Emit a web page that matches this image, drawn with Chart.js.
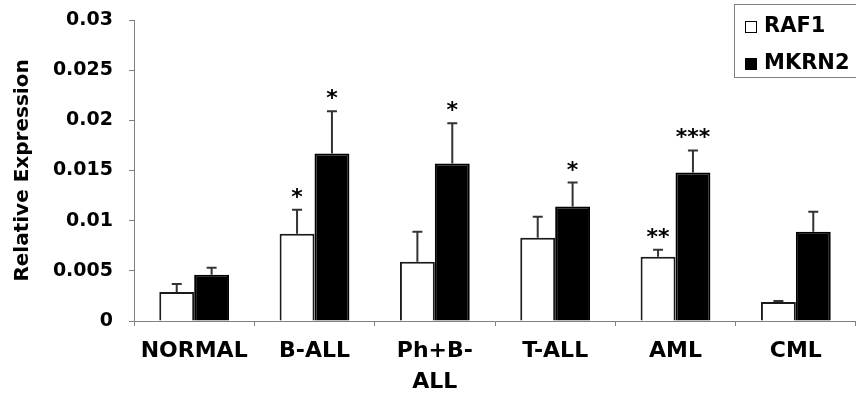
<!DOCTYPE html>
<html>
<head>
<meta charset="utf-8">
<script src="https://cdn.jsdelivr.net/npm/chart.js@4.4.1/dist/chart.umd.min.js"></script>
<style>
  html, body { margin: 0; padding: 0; background: #fff; }
  #wrap { width: 856px; height: 400px; position: relative; }
</style>
</head>
<body>
<div id="wrap"><canvas id="chart"></canvas></div>
<script>
const categories = ['NORMAL', 'B-ALL', ['Ph+B-', 'ALL'], 'T-ALL', 'AML', 'CML'];
const raf1 = [0.0029, 0.0087, 0.0059, 0.0083, 0.0064, 0.0019];
const raf1Err = [0.0008, 0.0024, 0.0030, 0.0021, 0.0007, 0.0001];
const mkrn2 = [0.0046, 0.0167, 0.0157, 0.0114, 0.0148, 0.0089];
const mkrn2Err = [0.0007, 0.0042, 0.0040, 0.0024, 0.0022, 0.0020];
const raf1Stars = ['', '*', '', '', '**', ''];
const mkrn2Stars = ['', '*', '*', '*', '***', ''];
const yTicks = [0, 0.005, 0.01, 0.015, 0.02, 0.025, 0.03];

const axisColor = '#808080';
const fontFamily = "'DejaVu Sans', sans-serif";
Chart.defaults.font.family = fontFamily;
Chart.defaults.color = '#000';

// error bars (upward only) + significance stars
const errorBarPlugin = {
  id: 'errorBars',
  afterDatasetsDraw(chart) {
    const ctx = chart.ctx;
    const y = chart.scales.y;
    chart.data.datasets.forEach((ds, i) => {
      const meta = chart.getDatasetMeta(i);
      meta.data.forEach((bar, j) => {
        const top = y.getPixelForValue(ds.data[j] + ds.errors[j]);
        ctx.save();
        ctx.strokeStyle = '#333';
        ctx.lineWidth = 2;
        ctx.beginPath();
        ctx.moveTo(bar.x, bar.y);
        ctx.lineTo(bar.x, top);
        ctx.moveTo(bar.x - 5, top);
        ctx.lineTo(bar.x + 5, top);
        ctx.stroke();
        if (ds.stars[j]) {
          ctx.fillStyle = '#000';
          ctx.font = 'bold 22px ' + fontFamily;
          ctx.textAlign = 'center';
          ctx.textBaseline = 'alphabetic';
          ctx.fillText(ds.stars[j], bar.x, top - 6);
        }
        ctx.restore();
      });
    });
  }
};

// boxed legend in the top right corner
const boxLegendPlugin = {
  id: 'boxLegend',
  afterDraw(chart) {
    const ctx = chart.ctx;
    ctx.save();
    ctx.strokeStyle = axisColor;
    ctx.lineWidth = 1;
    ctx.strokeRect(734.5, 4.5, 130, 73);
    ctx.font = 'bold 21px ' + fontFamily;
    ctx.textBaseline = 'middle';
    ctx.textAlign = 'left';
    chart.data.datasets.forEach((ds, i) => {
      const cy = 27 + i * 37;
      ctx.fillStyle = ds.backgroundColor;
      ctx.fillRect(745, cy - 6, 12, 12);
      ctx.strokeStyle = '#000';
      ctx.strokeRect(745.5, cy - 5.5, 11, 11);
      ctx.fillStyle = '#000';
      ctx.fillText(ds.label, 764, cy);
    });
    ctx.restore();
  }
};

new Chart(document.getElementById('chart'), {
  type: 'bar',
  data: {
    labels: categories,
    datasets: [
      {
        label: 'RAF1',
        data: raf1,
        errors: raf1Err,
        stars: raf1Stars,
        backgroundColor: '#ffffff',
        borderColor: '#1a1a1a',
        borderWidth: 2,
        categoryPercentage: 0.58,
        barPercentage: 1.0
      },
      {
        label: 'MKRN2',
        data: mkrn2,
        errors: mkrn2Err,
        stars: mkrn2Stars,
        backgroundColor: '#000000',
        borderColor: '#000000',
        borderWidth: 2,
        categoryPercentage: 0.58,
        barPercentage: 1.0
      }
    ]
  },
  options: {
    responsive: true,
    maintainAspectRatio: false,
    animation: false,
    layout: { padding: { top: 20, right: 0, bottom: 0, left: 0 } },
    plugins: {
      legend: { display: false },
      tooltip: { enabled: false }
    },
    scales: {
      x: {
        afterFit: s => { s.height = 79; },
        grid: { drawOnChartArea: false, drawTicks: true, tickLength: 5, color: axisColor, offset: true },
        border: { color: axisColor, width: 1 },
        ticks: { font: { size: 22, weight: 'bold', lineHeight: 1.4 }, padding: 10, color: '#000', maxRotation: 0 }
      },
      y: {
        min: 0,
        max: 0.03,
        afterFit: s => { s.width = 134; s.paddingTop = 0; s.paddingBottom = 0; },
        afterBuildTicks: s => { s.ticks = yTicks.map(v => ({ value: v })); },
        grid: { drawOnChartArea: false, drawTicks: true, tickLength: 5, color: axisColor },
        border: { color: axisColor, width: 1 },
        ticks: {
          font: { size: 19, weight: 'bold' },
          padding: 16,
          color: '#000',
          callback: v => String(v)
        },
        title: {
          display: true,
          text: 'Relative Expression',
          font: { size: 20, weight: 'bold' },
          padding: { top: 11, bottom: 0 },
          color: '#000'
        }
      }
    }
  },
  plugins: [errorBarPlugin, boxLegendPlugin]
});
</script>
</body>
</html>
